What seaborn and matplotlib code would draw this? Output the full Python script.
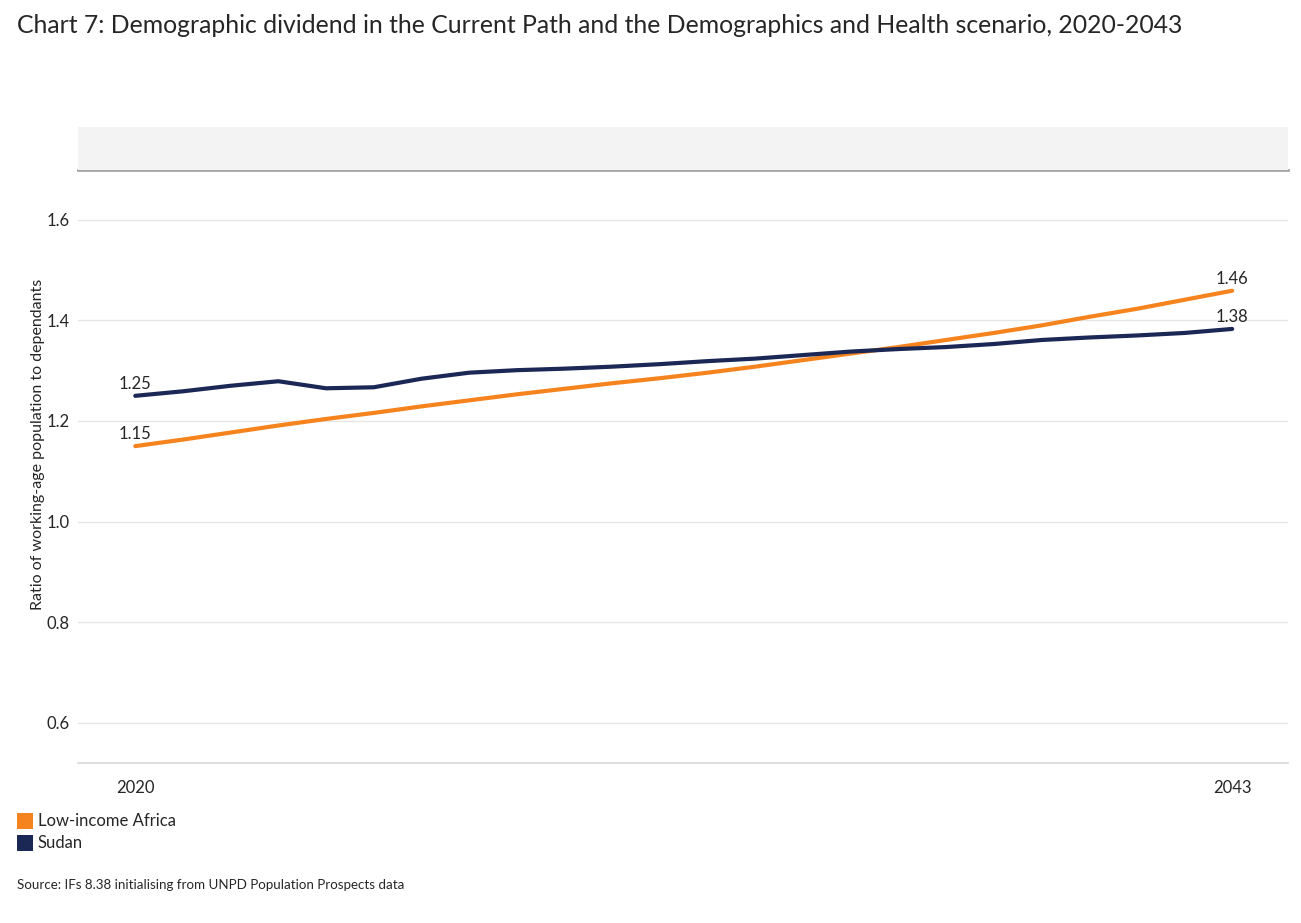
import pandas as pd
import matplotlib.pyplot as plt
import matplotlib.patches as mpatches
import seaborn as sns

# Data
years = list(range(2020, 2044))
low_income_africa = [1.150, 1.163, 1.177, 1.191, 1.204, 1.216, 1.229, 1.241, 1.253, 1.264,
                     1.275, 1.285, 1.296, 1.308, 1.321, 1.334, 1.347, 1.361, 1.375, 1.390,
                     1.407, 1.423, 1.441, 1.459]
sudan = [1.250, 1.259, 1.270, 1.279, 1.265, 1.267, 1.284, 1.296, 1.301, 1.304,
         1.308, 1.313, 1.319, 1.324, 1.331, 1.338, 1.343, 1.347, 1.353, 1.361,
         1.366, 1.370, 1.375, 1.383]
series_names = ['Low-income Africa', 'Sudan']
series_colors = ['#F5841F', '#1B2856']
y_ticks = [0.6, 0.8, 1.0, 1.2, 1.4, 1.6]
x_ticks = [2020, 2043]

df = pd.DataFrame({
    'Year': years * 2,
    'Value': low_income_africa + sudan,
    'Series': [series_names[0]] * len(years) + [series_names[1]] * len(years),
})

sns.set_theme(style="white")
plt.rcParams['font.family'] = ['Lato', 'DejaVu Sans']

fig = plt.figure(figsize=(13.01, 9.23), dpi=100)
ax = fig.add_axes([0.06, 0.1734, 0.930, 0.6424])

sns.lineplot(data=df, x='Year', y='Value', hue='Series', palette=series_colors,
             linewidth=3, legend=False, ax=ax)

ax.set_xlim(2018.8, 2044.17)
ax.set_ylim(0.52, 1.699)
ax.set_yticks(y_ticks)
ax.set_yticklabels([f'{v:.1f}' for v in y_ticks], fontsize=12)
ax.set_xticks(x_ticks)
ax.set_xticklabels([str(x) for x in x_ticks], fontsize=12)
ax.tick_params(axis='y', length=0, pad=6)
ax.tick_params(axis='x', length=4, color='#d9d9d9', pad=8)
ax.grid(axis='y', color='#e6e6e6', linewidth=1)
ax.set_xlabel('')
ax.set_ylabel('Ratio of working-age population to dependants', fontsize=11.5)
ax.yaxis.set_label_coords(-0.027, 0.538)

for side in ['left', 'right']:
    ax.spines[side].set_visible(False)
ax.spines['bottom'].set_color('#d9d9d9')
ax.spines['top'].set_color('#a6a6a6')
ax.spines['top'].set_linewidth(2)

# end labels
for vals in [low_income_africa, sudan]:
    ax.annotate(f'{vals[0]:.2f}', (years[0], vals[0]), xytext=(0, 3),
                textcoords='offset points', ha='center', va='bottom', fontsize=12)
    ax.annotate(f'{vals[-1]:.2f}', (years[-1], vals[-1]), xytext=(0, 3),
                textcoords='offset points', ha='center', va='bottom', fontsize=12)

# grey header band above the plot
fig.patches.append(mpatches.Rectangle((0.06, 0.8158), 0.930, 0.0466, transform=fig.transFigure,
                                      facecolor='#f3f3f3', edgecolor='none', zorder=0))

fig.text(0.013, 0.972, 'Chart 7: Demographic dividend in the Current Path and the Demographics and Health scenario, 2020-2043',
         fontsize=17.8, va='center', ha='left')

# legend
for i, (name, col) in enumerate(zip(series_names, series_colors)):
    y = 1 - (821 + 22 * i) / 923
    fig.patches.append(mpatches.Rectangle((0.013, y - 0.0087), 0.0123, 0.0174, transform=fig.transFigure,
                                          facecolor=col, edgecolor='none'))
    fig.text(0.029, y, name, fontsize=12, va='center', ha='left')

fig.text(0.013, 1 - 885 / 923, 'Source: IFs 8.38 initialising from UNPD Population Prospects data',
         fontsize=9.6, va='center', ha='left')

plt.savefig('out.png', dpi=100)
